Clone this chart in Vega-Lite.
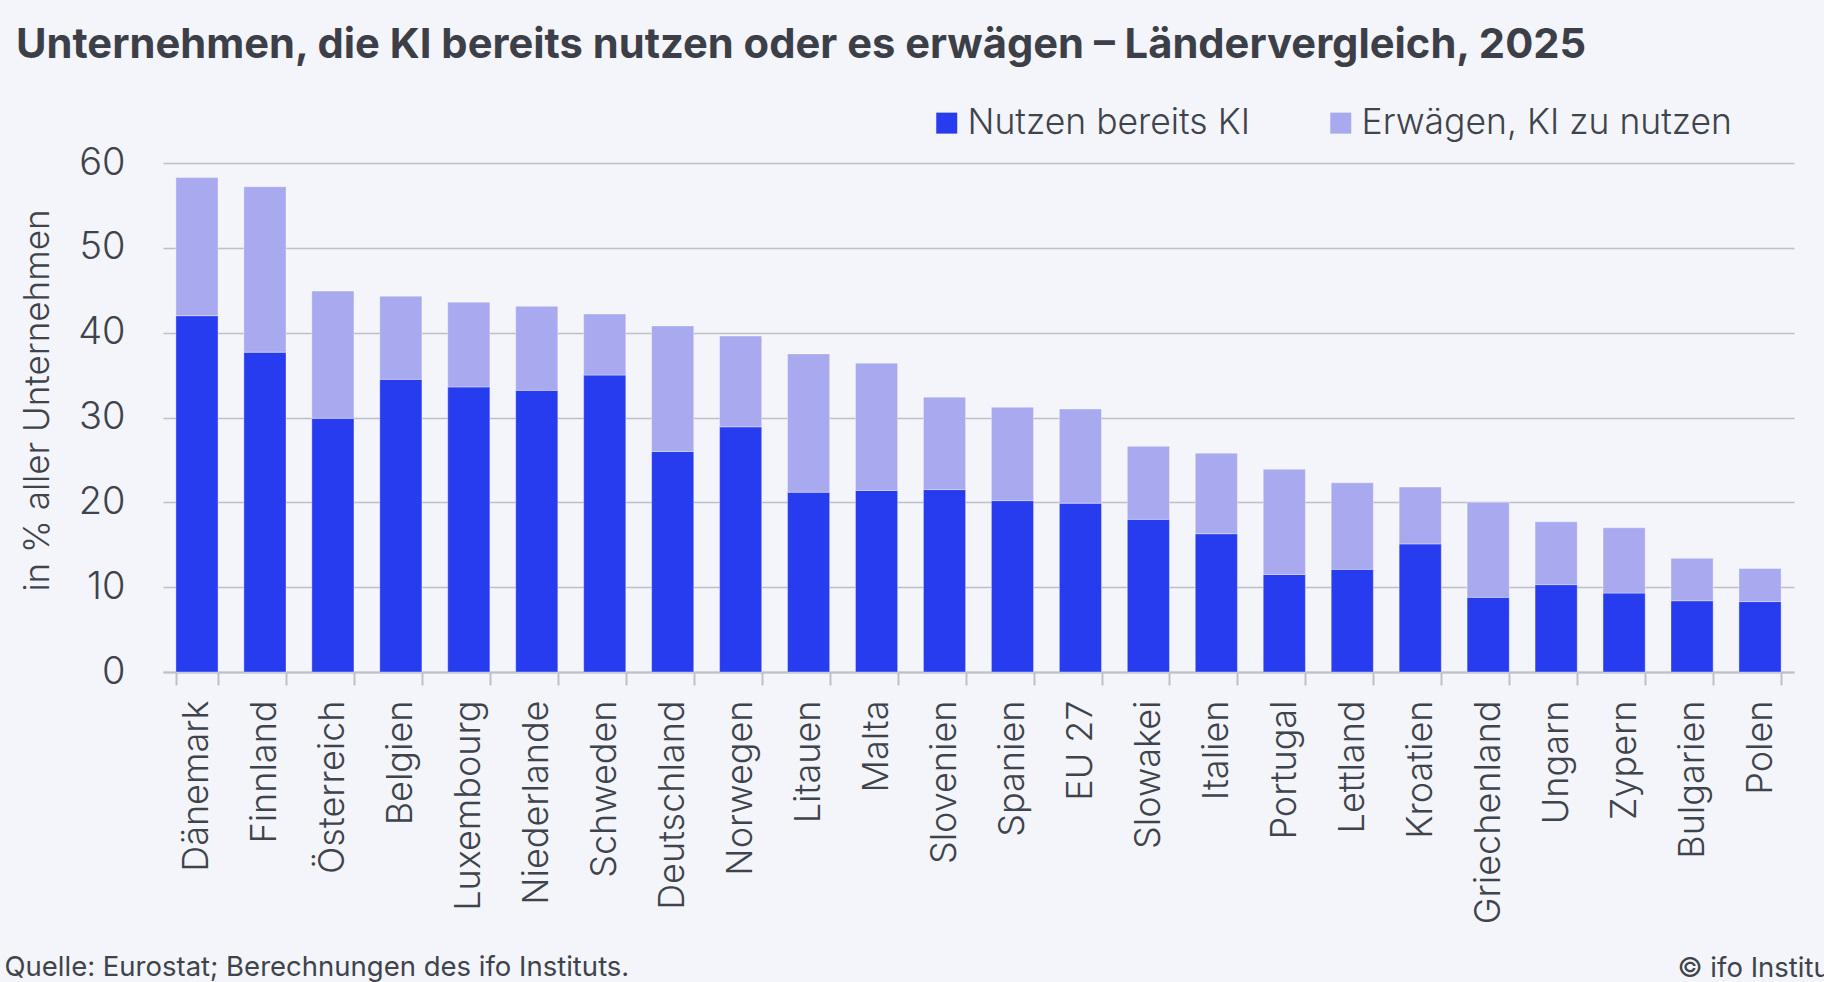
{
  "$schema": "https://vega.github.io/schema/vega-lite/v6.json",
  "autosize": "none",
  "width": 1631,
  "height": 509,
  "padding": {"left": 163, "top": 163, "right": 30, "bottom": 310},
  "background": "#F3F5FA",
  "title": {
    "text": "Unternehmen, die KI bereits nutzen oder es erwägen – Ländervergleich, 2025",
    "anchor": "start",
    "frame": "group",
    "dx": -147,
    "font": "Inter",
    "fontSize": 41.7,
    "fontWeight": "bold",
    "color": "#3C3F48",
    "offset": 38
  },
  "datasets": {
    "main": [
      {"land": "Dänemark", "reihe": "Nutzen bereits KI", "o": 1, "wert": 42.0},
      {"land": "Dänemark", "reihe": "Erwägen, KI zu nutzen", "o": 2, "wert": 16.3},
      {"land": "Finnland", "reihe": "Nutzen bereits KI", "o": 1, "wert": 37.7},
      {"land": "Finnland", "reihe": "Erwägen, KI zu nutzen", "o": 2, "wert": 19.5},
      {"land": "Österreich", "reihe": "Nutzen bereits KI", "o": 1, "wert": 29.9},
      {"land": "Österreich", "reihe": "Erwägen, KI zu nutzen", "o": 2, "wert": 15.0},
      {"land": "Belgien", "reihe": "Nutzen bereits KI", "o": 1, "wert": 34.5},
      {"land": "Belgien", "reihe": "Erwägen, KI zu nutzen", "o": 2, "wert": 9.8},
      {"land": "Luxembourg", "reihe": "Nutzen bereits KI", "o": 1, "wert": 33.6},
      {"land": "Luxembourg", "reihe": "Erwägen, KI zu nutzen", "o": 2, "wert": 10.0},
      {"land": "Niederlande", "reihe": "Nutzen bereits KI", "o": 1, "wert": 33.2},
      {"land": "Niederlande", "reihe": "Erwägen, KI zu nutzen", "o": 2, "wert": 9.9},
      {"land": "Schweden", "reihe": "Nutzen bereits KI", "o": 1, "wert": 35.0},
      {"land": "Schweden", "reihe": "Erwägen, KI zu nutzen", "o": 2, "wert": 7.2},
      {"land": "Deutschland", "reihe": "Nutzen bereits KI", "o": 1, "wert": 26.0},
      {"land": "Deutschland", "reihe": "Erwägen, KI zu nutzen", "o": 2, "wert": 14.8},
      {"land": "Norwegen", "reihe": "Nutzen bereits KI", "o": 1, "wert": 28.9},
      {"land": "Norwegen", "reihe": "Erwägen, KI zu nutzen", "o": 2, "wert": 10.7},
      {"land": "Litauen", "reihe": "Nutzen bereits KI", "o": 1, "wert": 21.2},
      {"land": "Litauen", "reihe": "Erwägen, KI zu nutzen", "o": 2, "wert": 16.3},
      {"land": "Malta", "reihe": "Nutzen bereits KI", "o": 1, "wert": 21.4},
      {"land": "Malta", "reihe": "Erwägen, KI zu nutzen", "o": 2, "wert": 15.0},
      {"land": "Slovenien", "reihe": "Nutzen bereits KI", "o": 1, "wert": 21.5},
      {"land": "Slovenien", "reihe": "Erwägen, KI zu nutzen", "o": 2, "wert": 10.9},
      {"land": "Spanien", "reihe": "Nutzen bereits KI", "o": 1, "wert": 20.2},
      {"land": "Spanien", "reihe": "Erwägen, KI zu nutzen", "o": 2, "wert": 11.0},
      {"land": "EU 27", "reihe": "Nutzen bereits KI", "o": 1, "wert": 19.9},
      {"land": "EU 27", "reihe": "Erwägen, KI zu nutzen", "o": 2, "wert": 11.1},
      {"land": "Slowakei", "reihe": "Nutzen bereits KI", "o": 1, "wert": 18.0},
      {"land": "Slowakei", "reihe": "Erwägen, KI zu nutzen", "o": 2, "wert": 8.6},
      {"land": "Italien", "reihe": "Nutzen bereits KI", "o": 1, "wert": 16.3},
      {"land": "Italien", "reihe": "Erwägen, KI zu nutzen", "o": 2, "wert": 9.5},
      {"land": "Portugal", "reihe": "Nutzen bereits KI", "o": 1, "wert": 11.5},
      {"land": "Portugal", "reihe": "Erwägen, KI zu nutzen", "o": 2, "wert": 12.4},
      {"land": "Lettland", "reihe": "Nutzen bereits KI", "o": 1, "wert": 12.1},
      {"land": "Lettland", "reihe": "Erwägen, KI zu nutzen", "o": 2, "wert": 10.2},
      {"land": "Kroatien", "reihe": "Nutzen bereits KI", "o": 1, "wert": 15.1},
      {"land": "Kroatien", "reihe": "Erwägen, KI zu nutzen", "o": 2, "wert": 6.7},
      {"land": "Griechenland", "reihe": "Nutzen bereits KI", "o": 1, "wert": 8.8},
      {"land": "Griechenland", "reihe": "Erwägen, KI zu nutzen", "o": 2, "wert": 11.2},
      {"land": "Ungarn", "reihe": "Nutzen bereits KI", "o": 1, "wert": 10.3},
      {"land": "Ungarn", "reihe": "Erwägen, KI zu nutzen", "o": 2, "wert": 7.4},
      {"land": "Zypern", "reihe": "Nutzen bereits KI", "o": 1, "wert": 9.3},
      {"land": "Zypern", "reihe": "Erwägen, KI zu nutzen", "o": 2, "wert": 7.7},
      {"land": "Bulgarien", "reihe": "Nutzen bereits KI", "o": 1, "wert": 8.4},
      {"land": "Bulgarien", "reihe": "Erwägen, KI zu nutzen", "o": 2, "wert": 5.0},
      {"land": "Polen", "reihe": "Nutzen bereits KI", "o": 1, "wert": 8.3},
      {"land": "Polen", "reihe": "Erwägen, KI zu nutzen", "o": 2, "wert": 3.9}
    ],
    "note": [{"n": 0}]
  },
  "layer": [
    {
      "data": {"name": "main"},
      "mark": {"type": "bar", "stroke": "#FFFFFF", "strokeWidth": 1, "strokeOpacity": 0.35},
      "encoding": {
        "x": {
          "field": "land",
          "type": "nominal",
          "sort": null,
          "scale": {"paddingInner": 0.38, "paddingOuter": 0.19},
          "axis": {
            "title": "Quelle: Eurostat; Berechnungen des ifo Instituts.",
            "titleFont": "Inter",
            "titleFontSize": 27.5,
            "titleFontWeight": "normal",
            "titleColor": "#3F434C",
            "titleAnchor": "start",
            "titleAlign": "left",
            "titleBaseline": "alphabetic",
            "titleX": -159,
            "titleY": 303,
            "labelAngle": -90,
            "labelFont": "Inter",
            "labelFontSize": 36,
            "labelFontWeight": 300,
            "labelColor": "#3F434C",
            "labelPadding": 15,
            "labelLimit": 400,
            "domain": true,
            "domainColor": "#BDC0C8",
            "domainWidth": 2,
            "ticks": true,
            "tickSize": 13,
            "tickColor": "#BDC0C8",
            "tickWidth": 2,
            "tickBand": "extent",
            "grid": false
          }
        },
        "y": {
          "field": "wert",
          "type": "quantitative",
          "stack": "zero",
          "scale": {"domain": [0, 60], "nice": false},
          "axis": {
            "title": "in % aller Unternehmen",
            "titleFont": "Inter",
            "titleFontSize": 35,
            "titleFontWeight": 300,
            "titleColor": "#3F434C",
            "titleAngle": -90,
            "titleAlign": "center",
            "titleBaseline": "alphabetic",
            "titleX": -115,
            "titleY": 237,
            "values": [0, 10, 20, 30, 40, 50, 60],
            "labelFont": "Inter",
            "labelFontSize": 38,
            "labelFontWeight": 300,
            "labelColor": "#3F434C",
            "labelPadding": 38,
            "domain": false,
            "ticks": false,
            "grid": true,
            "gridColor": "#BDC0C8",
            "gridWidth": 1.5
          }
        },
        "color": {
          "field": "reihe",
          "type": "nominal",
          "scale": {
            "domain": ["Nutzen bereits KI", "Erwägen, KI zu nutzen"],
            "range": ["#283CEF", "#A8A9EE"]
          },
          "legend": {
            "title": null,
            "orient": "none",
            "direction": "horizontal",
            "legendX": 766,
            "legendY": -58,
            "symbolType": "square",
            "symbolSize": 441,
            "symbolStrokeWidth": 0,
            "labelFont": "Inter",
            "labelFontSize": 35.5,
            "labelFontWeight": 300,
            "labelColor": "#3F434C",
            "labelOffset": 3,
            "labelLimit": 500,
            "columnPadding": 73,
            "padding": 0
          }
        },
        "order": {"field": "o", "type": "quantitative"}
      }
    },
    {
      "data": {"name": "note"},
      "mark": {"type": "rule", "opacity": 0},
      "encoding": {
        "y": {
          "field": "n",
          "type": "quantitative",
          "scale": {"domain": [0, 1]},
          "axis": {
            "orient": "right",
            "title": "© ifo Institut",
            "titleFont": "Inter",
            "titleFontSize": 27.5,
            "titleFontWeight": "normal",
            "titleColor": "#3F434C",
            "titleAngle": 0,
            "titleAlign": "left",
            "titleBaseline": "alphabetic",
            "titleX": -117,
            "titleY": 813,
            "domain": false,
            "ticks": false,
            "labels": false,
            "grid": false
          }
        }
      }
    }
  ],
  "resolve": {"scale": {"y": "independent"}, "axis": {"y": "independent"}},
  "config": {
    "view": {"stroke": null},
    "font": "Inter"
  }
}
